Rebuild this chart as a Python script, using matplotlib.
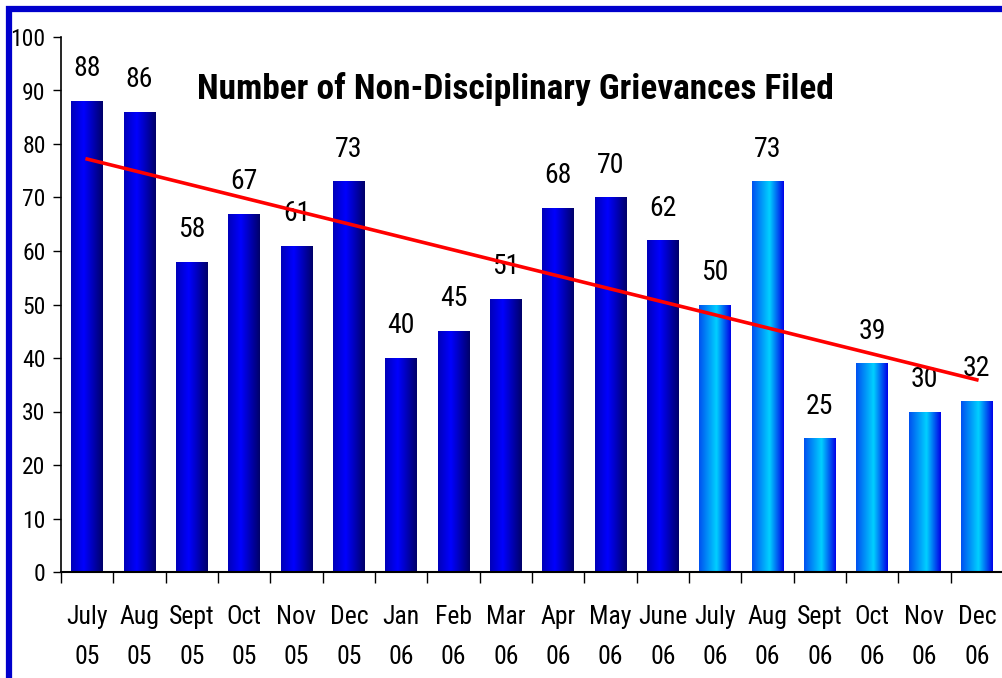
import numpy as np
import matplotlib
matplotlib.use("Agg")
import matplotlib.pyplot as plt
from matplotlib import font_manager
from matplotlib.colors import LinearSegmentedColormap
from matplotlib.patches import Rectangle

# Chart data
months = ["July\n05", "Aug\n05", "Sept\n05", "Oct\n05", "Nov\n05", "Dec\n05",
          "Jan\n06", "Feb\n06", "Mar\n06", "Apr\n06", "May\n06", "June\n06",
          "July\n06", "Aug\n06", "Sept\n06", "Oct\n06", "Nov\n06", "Dec\n06"]
grievances = [88, 86, 58, 67, 61, 73, 40, 45, 51, 68, 70, 62,
              50, 73, 25, 39, 30, 32]
n_dark = 12  # first fiscal year drawn in dark blue, second in light blue

# use a narrow font (with a bold face) if one is installed
fonts = font_manager.fontManager.ttflist
narrow = {f.name for f in fonts if "Narrow" in f.name or "Condensed" in f.name}
bold_narrow = {f.name for f in fonts if f.name in narrow and f.weight in ("bold", 700)}
preferred = ["Liberation Sans Narrow", "Arial Narrow", "Roboto Condensed",
             "Open Sans Condensed", "DejaVu Sans Condensed"]
picks = [p for p in preferred if p in bold_narrow] + sorted(bold_narrow) + sorted(narrow)
if picks:
    plt.rcParams['font.family'] = [picks[0], 'Liberation Sans', 'DejaVu Sans']
    scale = 1.0
else:
    plt.rcParams['font.family'] = ['Liberation Sans', 'DejaVu Sans']
    scale = 0.84

dark_cmap = LinearSegmentedColormap.from_list(
    "dark", [(0.0, "#0000b8"), (0.4, "#0000ff"), (1.0, "#000068")])
light_cmap = LinearSegmentedColormap.from_list(
    "light", [(0.0, "#0050f0"), (0.55, "#00d0ff"), (1.0, "#0000e8")])

fig = plt.figure(figsize=(10.03, 6.78), dpi=100)
ax = fig.add_axes([61 / 1003, 1 - 572 / 678, 942 / 1003, (572 - 37) / 678])

x = np.arange(len(grievances))
bars = ax.bar(x, grievances, width=0.6, color="none", edgecolor="none", zorder=2)

grad = np.linspace(0, 1, 256).reshape(1, -1)
for i, b in enumerate(bars):
    cmap = dark_cmap if i < n_dark else light_cmap
    x0 = b.get_x()
    im = ax.imshow(grad, cmap=cmap, aspect="auto", zorder=2,
                   extent=[x0, x0 + b.get_width(), 0, b.get_height()])
    im.set_clip_path(b)

# value labels
for xi, v in zip(x, grievances):
    ax.annotate(str(v), (xi, v), xytext=(0, 13.5), textcoords="offset points",
                ha="center", va="bottom", fontsize=20 * scale, zorder=4)

# linear trend line
slope, intercept = np.polyfit(x, grievances, 1)
ax.plot(x, slope * x + intercept, color="#ff0000", linewidth=2.6, zorder=5)

ax.set_xlim(-0.5, 17.34)
ax.set_ylim(0, 100)
ax.set_yticks(range(0, 101, 10))
ax.tick_params(axis="y", direction="out", length=6, width=1,
               labelsize=17 * scale, pad=5)
ax.set_xticks(x)
ax.set_xticklabels(months, fontsize=18.5 * scale, linespacing=1.8)
ax.tick_params(axis="x", length=0, pad=24)
ax.set_xticks(np.arange(-0.5, 18, 1), minor=True)
ax.tick_params(axis="x", which="minor", direction="out", length=8, width=1)
for side in ("top", "right"):
    ax.spines[side].set_visible(False)
ax.spines["left"].set_linewidth(1.2)
ax.spines["bottom"].set_linewidth(1.5)

fig.text(515 / 1003, 1 - 89 / 678, "Number of Non-Disciplinary Grievances Filed",
         ha="center", va="center", fontsize=25.5 * scale, fontweight="bold")

# blue frame around the chart
fig.patches.append(Rectangle((9.5 / 1003, -0.1), 1.2, 1 - 9 / 678 + 0.1,
                             transform=fig.transFigure, fill=False,
                             edgecolor="#0000cc", linewidth=4.5))

fig.savefig("out.png", dpi=100)
